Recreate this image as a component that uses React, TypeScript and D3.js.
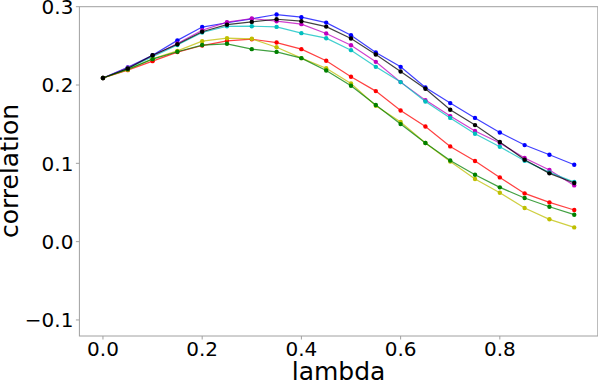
import React, { useEffect, useRef } from "react";
import * as d3 from "d3";

const lambdas = [0, 0.05, 0.1, 0.15, 0.2, 0.25, 0.3, 0.35, 0.4, 0.45, 0.5, 0.55, 0.6, 0.65, 0.7, 0.75, 0.8, 0.85, 0.9, 0.95];

const blueVals = [0.209, 0.2225, 0.238, 0.257, 0.274, 0.2795, 0.2845, 0.29, 0.2866, 0.2797, 0.2636, 0.2415, 0.2232, 0.1968, 0.1769, 0.158, 0.1394, 0.1233, 0.111, 0.0982];
const magentaVals = [0.209, 0.222, 0.237, 0.253, 0.27, 0.2802, 0.2849, 0.2815, 0.2777, 0.2657, 0.2508, 0.2296, 0.2037, 0.1807, 0.1603, 0.1412, 0.1259, 0.1068, 0.0914, 0.0718];
const cyanVals = [0.209, 0.221, 0.236, 0.251, 0.267, 0.275, 0.2751, 0.2742, 0.2662, 0.2598, 0.2445, 0.2232, 0.2037, 0.179, 0.158, 0.1378, 0.1212, 0.1033, 0.0884, 0.0761];
const redVals = [0.209, 0.219, 0.2305, 0.242, 0.2504, 0.2564, 0.2585, 0.2542, 0.2458, 0.2309, 0.2105, 0.1922, 0.1675, 0.1471, 0.1216, 0.1029, 0.082, 0.0616, 0.0501, 0.0404];
const yellowVals = [0.209, 0.2195, 0.2335, 0.2436, 0.256, 0.2598, 0.259, 0.2483, 0.2343, 0.2215, 0.202, 0.1735, 0.1527, 0.1259, 0.1024, 0.08, 0.0625, 0.043, 0.0285, 0.0182];
const greenVals = [0.209, 0.22, 0.233, 0.2425, 0.251, 0.2526, 0.2458, 0.2423, 0.2343, 0.2185, 0.199, 0.1744, 0.1501, 0.1259, 0.1037, 0.0855, 0.0693, 0.0557, 0.0446, 0.0344];
const blackVals = [0.209, 0.221, 0.238, 0.252, 0.268, 0.277, 0.2806, 0.284, 0.2815, 0.2746, 0.2594, 0.239, 0.2172, 0.1952, 0.1684, 0.1488, 0.1272, 0.1046, 0.0872, 0.0748];

const seriesColors = ["#0000ff", "#bf00bf", "#00bfbf", "#ff0000", "#bfbf00", "#008000", "#000000"];

const xTicks = [0, 0.2, 0.4, 0.6, 0.8];
const yTicks = [-0.1, 0, 0.1, 0.2, 0.3];

const W = 598;
const H = 386;

const App = () => {
  const ref = useRef<SVGSVGElement>(null);

  useEffect(() => {
    const svg = d3.select(ref.current);
    svg.selectAll("*").remove();

    const left = 79.4, right = 597.8, top = 6.7, bottom = 336;
    const x = d3.scaleLinear().domain([-0.0475, 0.9975]).range([left, right]);
    const y = d3.scaleLinear().domain([-0.1205, 0.3]).range([bottom, top]);

    const font = "DejaVu Sans, sans-serif";
    const allSeries = [blueVals, magentaVals, cyanVals, redVals, yellowVals, greenVals, blackVals];

    // lines + dots
    const line = d3.line<number>().x((d, i) => x(lambdas[i])).y((d) => y(d));
    allSeries.forEach((vals, k) => {
      const g = svg.append("g");
      g.append("path")
        .attr("d", line(vals))
        .attr("fill", "none")
        .attr("stroke", seriesColors[k])
        .attr("stroke-opacity", 0.75)
        .attr("stroke-width", 1.2);
      g.selectAll("circle")
        .data(vals)
        .enter()
        .append("circle")
        .attr("cx", (d, i) => x(lambdas[i]))
        .attr("cy", (d) => y(d))
        .attr("r", 2.2)
        .attr("fill", seriesColors[k]);
    });

    // frame
    svg.append("rect")
      .attr("x", left)
      .attr("y", top)
      .attr("width", right - left)
      .attr("height", bottom - top)
      .attr("fill", "none")
      .attr("stroke", "#a0a0a0")
      .attr("stroke-width", 1);

    const fmt = (v: number) => d3.format(".1f")(v).replace("-", "\u2212");

    // x axis
    const xg = svg.append("g").attr("transform", `translate(0,${bottom})`);
    xg.selectAll("line").data(xTicks).enter().append("line")
      .attr("x1", (d) => x(d)).attr("x2", (d) => x(d))
      .attr("y1", 0).attr("y2", 3.5)
      .attr("stroke", "#a0a0a0");
    xg.selectAll("text").data(xTicks).enter().append("text")
      .attr("x", (d) => x(d)).attr("y", 20)
      .attr("text-anchor", "middle")
      .style("font-family", font).style("font-size", "20px")
      .text((d) => fmt(d));

    // y axis
    const yg = svg.append("g").attr("transform", `translate(${left},0)`);
    yg.selectAll("line").data(yTicks).enter().append("line")
      .attr("x1", -3.5).attr("x2", 0)
      .attr("y1", (d) => y(d)).attr("y2", (d) => y(d))
      .attr("stroke", "#a0a0a0");
    yg.selectAll("text").data(yTicks).enter().append("text")
      .attr("x", -6).attr("y", (d) => y(d))
      .attr("dy", "0.36em")
      .attr("text-anchor", "end")
      .style("font-family", font).style("font-size", "20px")
      .text((d) => fmt(d));

    // axis titles
    svg.append("text")
      .attr("x", (left + right) / 2).attr("y", 380)
      .attr("text-anchor", "middle")
      .style("font-family", font).style("font-size", "25px")
      .text("lambda");
    svg.append("text")
      .attr("transform", `translate(18,171) rotate(-90)`)
      .attr("text-anchor", "middle")
      .style("font-family", font).style("font-size", "25px")
      .text("correlation");
  }, []);

  return (
    <svg ref={ref} width={W} height={H} style={{ position: "absolute", left: 0, top: 0 }} />
  );
};

export default App;
